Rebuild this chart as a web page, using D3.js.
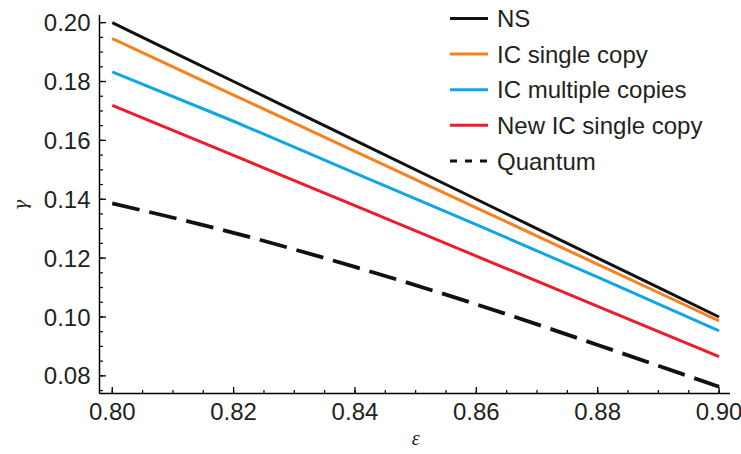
<!DOCTYPE html>
<html>
<head>
<meta charset="utf-8">
<script src="https://cdn.jsdelivr.net/npm/d3@7"></script>
<style>
  body { margin: 0; background: #fff; }
  text { font-family: "Liberation Sans", Arial, Helvetica, sans-serif; fill: #231f20; }
</style>
</head>
<body>
<script>
const eps = [0.80, 0.82, 0.84, 0.86, 0.88, 0.90]

const ns = [0.200, 0.180, 0.160, 0.140, 0.120, 0.100]
const icSingle = [0.1946, 0.1754, 0.1563, 0.1371, 0.1179, 0.0987]
const icMultiple = [0.1833, 0.1665, 0.1489, 0.1314, 0.1135, 0.0953]
const newIcSingle = [0.1719, 0.1549, 0.1378, 0.1207, 0.1036, 0.0865]
const quantum = [0.1386, 0.1286, 0.1170, 0.1043, 0.0905, 0.0763]

const xTicks = [0.80, 0.82, 0.84, 0.86, 0.88, 0.90]
const yTicks = [0.08, 0.10, 0.12, 0.14, 0.16, 0.18, 0.20]

const series = [
    {name: "NS", values: ns, color: "#111111", dash: null},
    {name: "IC single copy", values: icSingle, color: "#f5821f", dash: null},
    {name: "IC multiple copies", values: icMultiple, color: "#10a6e6", dash: null},
    {name: "New IC single copy", values: newIcSingle, color: "#ec1c2b", dash: null},
    {name: "Quantum", values: quantum, color: "#111111", dash: "28,10"}
]

const W = 741, H = 454

let svg = d3.select("body").append("svg")
    .attr("width", W).attr("height", H)

// scales: frame runs a bit past the first/last tick like the original
let x = d3.scaleLinear().domain([0.7979, 0.9018]).range([99.5, 730])
let y = d3.scaleLinear().domain([0.074, 0.2026]).range([393.5, 15])

// minor ticks every 0.005
let xMinor = d3.range(0.795, 0.9051, 0.005).filter(v => v >= 0.7979 && v <= 0.9018)
let yMinor = d3.range(0.070, 0.2051, 0.005).filter(v => v >= 0.074 && v <= 0.2026)

// x axis
let gx = svg.append("g").attr("transform", `translate(0,${y.range()[0]})`)
gx.append("path").attr("d", `M${x.range()[0]},0H${x.range()[1]}`)
    .attr("stroke", "#000").attr("stroke-width", 1.5)
gx.selectAll(".minor").data(xMinor).enter().append("line")
    .attr("x1", d => x(d)).attr("x2", d => x(d))
    .attr("y1", 0).attr("y2", -3.5)
    .attr("stroke", "#000").attr("stroke-width", 1.2)
gx.selectAll(".major").data(xTicks).enter().append("line")
    .attr("x1", d => x(d)).attr("x2", d => x(d))
    .attr("y1", 0).attr("y2", -6.5)
    .attr("stroke", "#000").attr("stroke-width", 1.3)
gx.selectAll(".lbl").data(xTicks).enter().append("text")
    .attr("x", d => x(d)).attr("y", 26.5)
    .attr("text-anchor", "middle")
    .attr("font-size", 24)
    .text(d => d.toFixed(2))

// y axis
let gy = svg.append("g").attr("transform", `translate(${x.range()[0]},0)`)
gy.append("path").attr("d", `M0,${y.range()[0]}V${y.range()[1]}`)
    .attr("stroke", "#000").attr("stroke-width", 1.5)
gy.selectAll(".minor").data(yMinor).enter().append("line")
    .attr("y1", d => y(d)).attr("y2", d => y(d))
    .attr("x1", 0).attr("x2", 3.5)
    .attr("stroke", "#000").attr("stroke-width", 1.2)
gy.selectAll(".major").data(yTicks).enter().append("line")
    .attr("y1", d => y(d)).attr("y2", d => y(d))
    .attr("x1", 0).attr("x2", 6.5)
    .attr("stroke", "#000").attr("stroke-width", 1.3)
gy.selectAll(".lbl").data(yTicks).enter().append("text")
    .attr("x", -9).attr("y", d => y(d))
    .attr("dy", "0.36em")
    .attr("text-anchor", "end")
    .attr("font-size", 24)
    .text(d => d.toFixed(2))

// axis titles
svg.append("text")
    .attr("transform", `translate(27,${y(0.138)}) rotate(-90)`)
    .attr("text-anchor", "middle")
    .style("font-family", "'DejaVu Serif', 'Liberation Serif', serif")
    .style("font-style", "italic")
    .attr("font-size", 18)
    .text("γ")
svg.append("text")
    .attr("x", x(0.85)).attr("y", 445)
    .attr("text-anchor", "middle")
    .style("font-family", "'Liberation Serif', 'DejaVu Serif', serif")
    .style("font-style", "italic")
    .attr("font-size", 20)
    .text("ε")

// curves
let line = d3.line()
    .x((d, i) => x(eps[i]))
    .y(d => y(d))
    .curve(d3.curveMonotoneX)

svg.selectAll(".curve").data(series).enter().append("path")
    .attr("class", "curve")
    .attr("d", d => line(d.values))
    .attr("fill", "none")
    .attr("stroke", d => d.color)
    .attr("stroke-width", d => d.dash ? 3.8 : 3)
    .attr("stroke-dasharray", d => d.dash)

// legend
let legend = svg.append("g").attr("transform", "translate(450,18.5)")
let item = legend.selectAll(".item").data(series).enter().append("g")
    .attr("transform", (d, i) => `translate(0,${i * 35.6})`)
item.append("line")
    .attr("x1", 0).attr("x2", 38).attr("y1", 0).attr("y2", 0)
    .attr("stroke", d => d.color)
    .attr("stroke-width", 3)
    .attr("stroke-dasharray", d => d.dash ? "7,8" : null)
item.append("text")
    .attr("x", 47).attr("dy", "0.36em")
    .attr("font-size", 24)
    .text(d => d.name)
</script>
</body>
</html>
